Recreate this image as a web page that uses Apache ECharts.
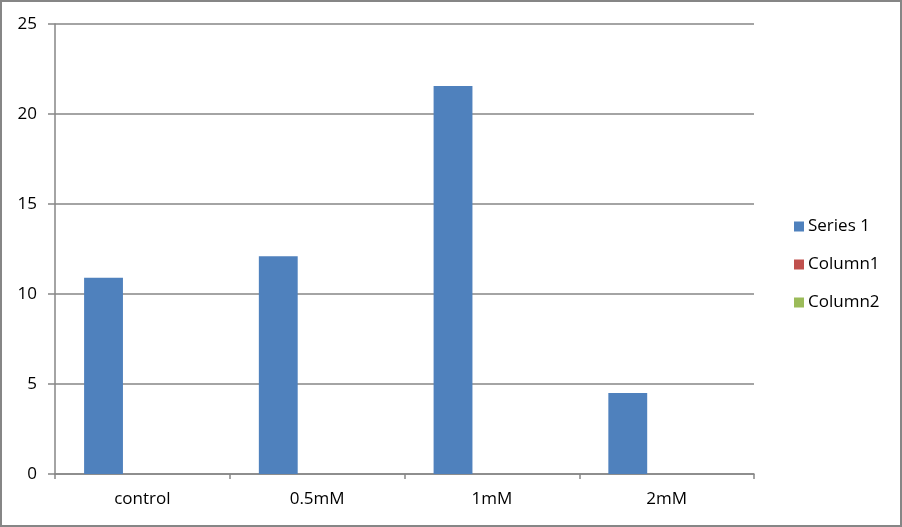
<!DOCTYPE html>
<html>
<head>
<meta charset="utf-8">
<script src="https://cdn.jsdelivr.net/npm/echarts@6/dist/echarts.min.js"></script>
<style>
html,body{margin:0;padding:0;background:#fff;}
#c{width:902px;height:527px;}
</style>
</head>
<body>
<div id="c"></div>
<script>
const categories = ['control', '0.5mM', '1mM', '2mM'];
const series1 = [10.9, 12.1, 21.55, 4.5];
const column1 = [null, null, null, null];
const column2 = [null, null, null, null];
const seriesNames = ['Series 1', 'Column1', 'Column2'];
const colors = ['#4F81BD', '#C0504D', '#9BBB59'];

const chart = echarts.init(document.getElementById('c'), null, {renderer: 'canvas'});
const font = '"Open Sans", "Liberation Sans", sans-serif';
chart.setOption({
  animation: false,
  color: colors,
  textStyle: {fontFamily: font},
  graphic: [{
    type: 'rect',
    shape: {x: 1, y: 1, width: 900, height: 525},
    style: {fill: 'none', stroke: '#868686', lineWidth: 2},
    silent: true
  }],
  grid: {left: 55, right: 148, top: 24, bottom: 53, containLabel: false},
  legend: {
    orient: 'vertical',
    left: 789,
    top: 213,
    itemWidth: 10,
    itemHeight: 10,
    itemGap: 21,
    icon: 'rect',
    textStyle: {fontSize: 17, color: '#000', fontFamily: font, padding: [0, 0, 0, -1]},
    data: seriesNames
  },
  xAxis: {
    type: 'category',
    data: categories,
    axisLine: {lineStyle: {color: '#868686', width: 1.5}},
    axisTick: {show: true, length: 5, lineStyle: {color: '#868686', width: 1.5}},
    axisLabel: {fontSize: 17, color: '#000', margin: 17, fontFamily: font},
    splitLine: {show: false}
  },
  yAxis: {
    type: 'value',
    min: 0,
    max: 25,
    interval: 5,
    axisLine: {show: true, lineStyle: {color: '#868686', width: 1.5}},
    axisTick: {show: true, length: 7, lineStyle: {color: '#868686', width: 1.5}},
    axisLabel: {fontSize: 17, color: '#000', margin: 18, fontFamily: font},
    splitLine: {show: true, lineStyle: {color: '#868686', width: 1.5}}
  },
  series: [
    {name: seriesNames[0], type: 'bar', data: series1, barGap: '0%', barCategoryGap: '33.3%', itemStyle: {color: colors[0]}},
    {name: seriesNames[1], type: 'bar', data: column1, itemStyle: {color: colors[1]}},
    {name: seriesNames[2], type: 'bar', data: column2, itemStyle: {color: colors[2]}}
  ]
});
</script>
</body>
</html>
